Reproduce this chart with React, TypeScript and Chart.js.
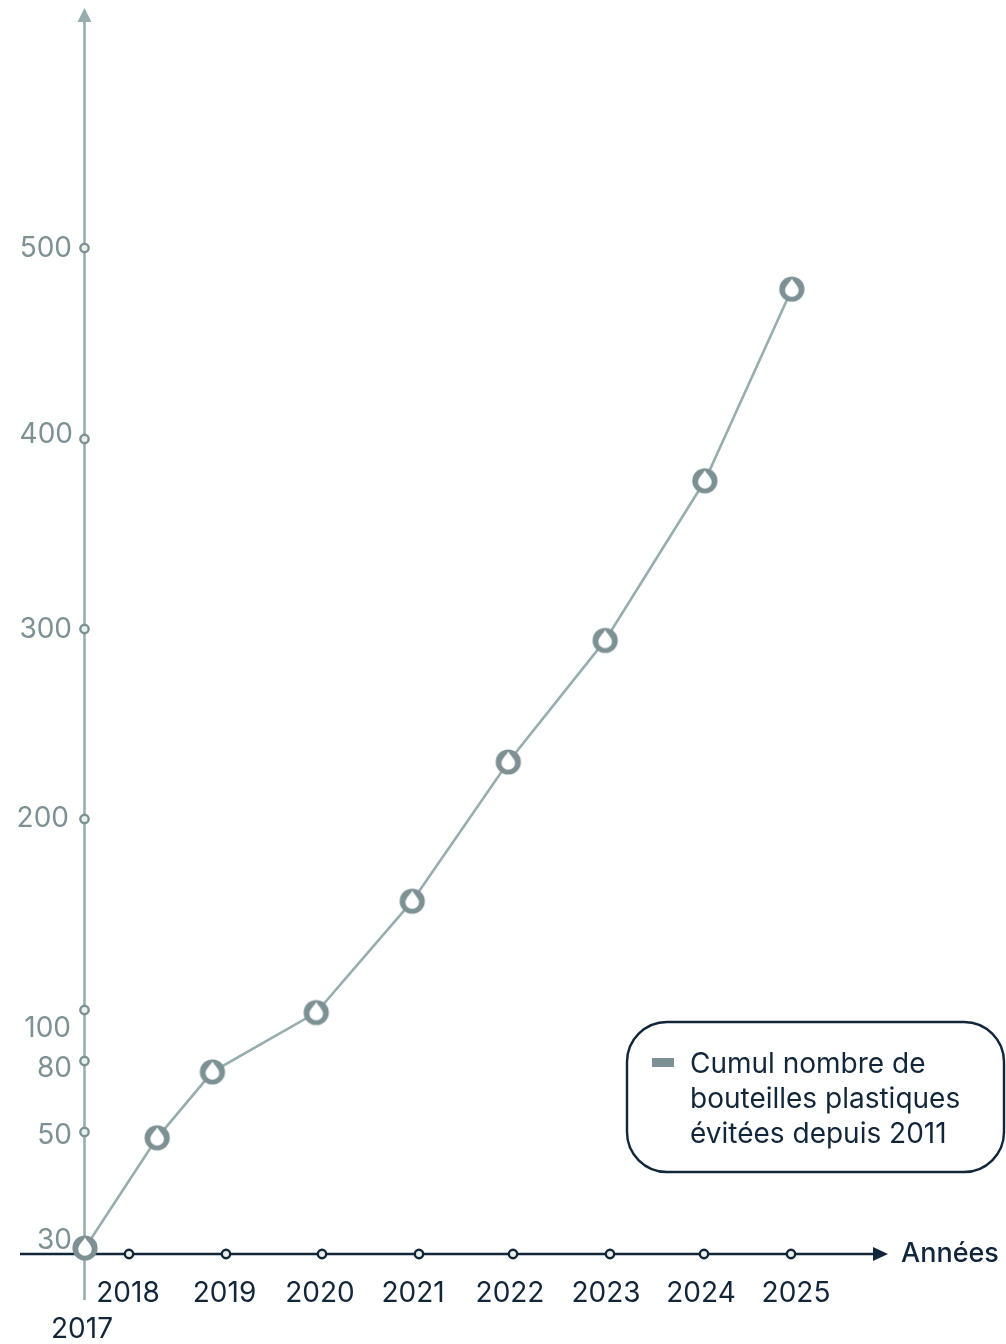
import React, { useEffect, useRef } from "react";
import { Chart, LinearScale, LineController, LineElement, PointElement } from "chart.js";

const years = [2017, 2018, 2019, 2020, 2021, 2022, 2023, 2024, 2025];
const yTickValues = [30, 50, 80, 100, 200, 300, 400, 500];
// Position of each observation along the (decimal) year axis
const pointYears = [2017, 2018.29, 2018.86, 2019.94, 2020.93, 2021.95, 2022.95, 2024.01, 2025.01];
const bottles = [30, 49, 75.4, 99, 157, 230, 294, 378, 478.5];
const legendLines = ["Cumul nombre de", "bouteilles plastiques", "évitées depuis 2011"];
const xAxisTitle = "Années";

// The source axes are not uniform: each known tick is tied to a canvas pixel.
const xAnchors: [number, number][] = [
  [2017, 85], [2018, 129], [2019, 226], [2020, 322], [2021, 419],
  [2022, 513], [2023, 610], [2024, 704], [2025, 791],
];
const yAnchors: [number, number][] = [
  [30, 1248], [50, 1132], [80, 1061], [100, 1010], [200, 819], [300, 629], [400, 439], [500, 248],
];
// Hand placement of the tick labels (centre x / right x, centre y)
const xLabelPlaces: Record<number, [number, number]> = {
  2017: [82, 1330], 2018: [128, 1294], 2019: [224.5, 1294], 2020: [320, 1294], 2021: [413, 1294],
  2022: [510, 1294], 2023: [606, 1294], 2024: [701, 1294], 2025: [796, 1294],
};
const yLabelPlaces: Record<number, [number, number]> = {
  500: [72, 249], 400: [73, 435], 300: [72, 630], 200: [69, 819],
  100: [71, 1029], 80: [72, 1069], 50: [72, 1136], 30: [72, 1241],
};

const FONT = "Inter, sans-serif";
const DARK = "#12263a";
const SAGE = "#97adae";
const SAGE_DARK = "#7d9195";
const RING_FILL = "#eaf0ec";

function interp(a: [number, number][], v: number, from: 0 | 1) {
  const to = from === 0 ? 1 : 0;
  const asc = a[0][from] < a[a.length - 1][from];
  let i = 0;
  while (i < a.length - 2 && (asc ? v > a[i + 1][from] : v < a[i + 1][from])) i++;
  const p = a[i], q = a[i + 1];
  return p[to] + ((v - p[from]) * (q[to] - p[to])) / (q[from] - p[from]);
}

class AnchoredScale extends LinearScale {
  static id = "anchored";
  static defaults = LinearScale.defaults;
  getPixelForValue(value: number) {
    return interp((this.options as any).anchors, value, 0);
  }
  getValueForPixel(pixel: number) {
    return interp((this.options as any).anchors, pixel, 1);
  }
}

Chart.register(LineController, LineElement, PointElement, LinearScale, AnchoredScale as any);

function makeDropMarker() {
  const size = 28;
  const c = document.createElement("canvas");
  c.width = size;
  c.height = size;
  const g = c.getContext("2d")!;
  const m = size / 2;
  g.fillStyle = SAGE_DARK;
  g.beginPath();
  g.arc(m, m, 12.6, 0, Math.PI * 2);
  g.fill();
  g.fillStyle = "#ffffff";
  g.beginPath();
  g.moveTo(m, m - 10.5);
  g.bezierCurveTo(m + 1.5, m - 7, m + 6.8, m - 3, m + 6.8, m + 1);
  g.arc(m, m + 1, 6.8, 0, Math.PI);
  g.bezierCurveTo(m - 6.8, m - 3, m - 1.5, m - 7, m, m - 10.5);
  g.fill();
  return c;
}

function ring(ctx: CanvasRenderingContext2D, x: number, y: number, stroke: string) {
  ctx.beginPath();
  ctx.arc(x, y, 4.2, 0, Math.PI * 2);
  ctx.fillStyle = RING_FILL;
  ctx.fill();
  ctx.lineWidth = 2.4;
  ctx.strokeStyle = stroke;
  ctx.stroke();
}

const axesPlugin = {
  id: "axesPlugin",
  beforeDatasetsDraw(chart: any) {
    const { ctx, scales } = chart;
    const ax = scales.x.getPixelForValue(2017) - 0.5;
    const ay = 1254;
    ctx.save();
    // y axis
    ctx.strokeStyle = SAGE;
    ctx.lineWidth = 2.6;
    ctx.beginPath();
    ctx.moveTo(ax, 1300);
    ctx.lineTo(ax, 20);
    ctx.stroke();
    ctx.fillStyle = SAGE;
    ctx.beginPath();
    ctx.moveTo(ax, 8);
    ctx.lineTo(ax + 7, 22);
    ctx.lineTo(ax - 7, 22);
    ctx.closePath();
    ctx.fill();
    // x axis
    ctx.strokeStyle = DARK;
    ctx.lineWidth = 2.4;
    ctx.beginPath();
    ctx.moveTo(20, ay);
    ctx.lineTo(875, ay);
    ctx.stroke();
    ctx.fillStyle = DARK;
    ctx.beginPath();
    ctx.moveTo(888, ay);
    ctx.lineTo(873, ay - 7);
    ctx.lineTo(873, ay + 7);
    ctx.closePath();
    ctx.fill();
    // tick rings
    for (const t of scales.y.ticks) {
      if (t.value > 30) ring(ctx, ax, scales.y.getPixelForValue(t.value), SAGE_DARK);
    }
    for (const t of scales.x.ticks) {
      if (t.value > 2017) ring(ctx, scales.x.getPixelForValue(t.value), ay, DARK);
    }
    ctx.restore();
  },
  afterDatasetsDraw(chart: any) {
    const { ctx, scales } = chart;
    ctx.save();
    ctx.textBaseline = "middle";
    ctx.font = `400 28px ${FONT}`;
    ctx.fillStyle = SAGE_DARK;
    ctx.textAlign = "right";
    for (const t of scales.y.ticks) {
      const [x, y] = yLabelPlaces[t.value];
      ctx.fillText(String(t.value), x, y);
    }
    ctx.fillStyle = DARK;
    ctx.textAlign = "center";
    for (const t of scales.x.ticks) {
      const [x, y] = xLabelPlaces[t.value];
      ctx.fillText(String(t.value), x, y);
    }
    ctx.font = `500 27px ${FONT}`;
    ctx.textAlign = "left";
    ctx.fillText(xAxisTitle, 901, 1254);

    // legend box
    ctx.lineWidth = 2.4;
    ctx.strokeStyle = DARK;
    ctx.fillStyle = "#ffffff";
    ctx.beginPath();
    ctx.roundRect(627, 1022, 377, 150, 40);
    ctx.fill();
    ctx.stroke();
    ctx.fillStyle = SAGE_DARK;
    ctx.fillRect(652, 1058, 22, 9);
    ctx.fillStyle = DARK;
    ctx.font = `400 28px ${FONT}`;
    legendLines.forEach((line, i) => ctx.fillText(line, 690, 1065 + i * 35));
    ctx.restore();
  },
};

export default function App() {
  const ref = useRef<HTMLCanvasElement>(null);
  useEffect(() => {
    const marker = makeDropMarker();
    const chart = new Chart(ref.current!, {
      type: "line",
      data: {
        datasets: [
          {
            label: legendLines.join(" "),
            data: pointYears.map((x, i) => ({ x, y: bottles[i] })),
            borderColor: SAGE,
            borderWidth: 2.6,
            tension: 0,
            pointStyle: marker,
            clip: false,
          } as any,
        ],
      },
      options: {
        animation: false,
        responsive: false,
        devicePixelRatio: 1,
        events: [],
        layout: { padding: { left: 85, right: 118, top: 12, bottom: 44 } },
        plugins: { legend: { display: false }, tooltip: { enabled: false } },
        scales: {
          x: {
            type: "anchored",
            display: false,
            anchors: xAnchors,
            min: 2017,
            max: 2026,
            afterBuildTicks: (s: any) => {
              s.ticks = years.map((value) => ({ value }));
            },
          } as any,
          y: {
            type: "anchored",
            display: false,
            anchors: yAnchors,
            min: 0,
            max: 600,
            afterBuildTicks: (s: any) => {
              s.ticks = yTickValues.map((value) => ({ value }));
            },
          } as any,
        },
      },
      plugins: [axesPlugin],
    });
    return () => chart.destroy();
  }, []);
  return (
    <canvas
      ref={ref}
      width={1006}
      height={1344}
      style={{ position: "absolute", left: 0, top: 0, width: 1006, height: 1344, display: "block" }}
    />
  );
}
